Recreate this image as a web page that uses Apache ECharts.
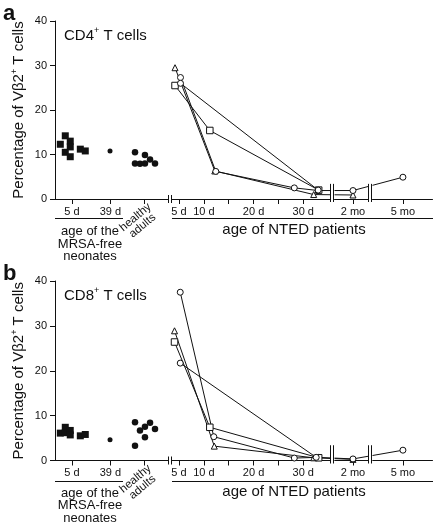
<!DOCTYPE html>
<html><head><meta charset="utf-8">
<script src="https://cdn.jsdelivr.net/npm/echarts@6/dist/echarts.min.js"></script>
<style>html,body{margin:0;padding:0;background:#fff}#c{width:435px;height:529px}</style>
</head><body><div id="c"></div>
<script>
// ---------- data ----------
const yTickValues = [0, 10, 20, 30, 40];
const leftCategories = ['5 d', '39 d', 'healthy adults'];
const leftCategoryPos = [1.5, 4.9, 7.9];
const rightTickDays = [5, 10, 15, 20, 25, 30, 60, 150];
const rightLabelDays = [5, 10, 20, 30, 60, 150];
const rightLabelText = ['5 d', '10 d', '20 d', '30 d', '2 mo', '5 mo'];

// panel a (CD4+)
const cd4Neonates5d = [[0.47,12.3],[0.91,14.2],[1.35,13.0],[0.91,10.5],[1.35,11.7],[1.35,9.5],[2.24,11.2],[2.68,10.8]];
const cd4Neonates39d = [[4.87,10.8]];
const cd4Adults = [[7.08,10.5],[7.08,8.0],[7.52,7.9],[7.96,9.9],[7.96,8.0],[8.41,8.9],[8.85,8.0]];
const cd4Triangle = [[4.2,29.5],[12.2,6.3],[32.1,1.0],[60,0.9]];
const cd4Circle1 = [[5.3,27.3],[12.4,6.2],[28.2,2.5],[33.0,1.9],[60,1.9],[150,4.9]];
const cd4Square = [[4.2,25.5],[11.2,15.4],[33.1,2.0]];
const cd4Circle2 = [[5.3,26.0],[33.0,2.0]];

// panel b (CD8+)
const cd8Neonates5d = [[0.47,6.1],[0.91,7.4],[0.91,6.2],[1.35,6.7],[1.35,5.7],[2.24,5.5],[2.68,5.8]];
const cd8Neonates39d = [[4.87,4.6]];
const cd8Adults = [[7.08,8.5],[7.08,3.3],[7.52,6.7],[7.96,7.5],[7.96,5.2],[8.41,8.4],[8.85,7.0]];
const cd8Circle1 = [[5.25,37.5],[12.0,5.3],[28.2,0.55],[33.0,0.7],[60,0.35],[150,2.3]];
const cd8Triangle = [[4.1,28.9],[12.1,3.2],[32.1,0.6],[60,0.25]];
const cd8Square = [[4.1,26.4],[11.2,7.4],[33.1,0.6]];
const cd8Circle2 = [[5.25,21.7],[32.6,0.7]];

const rightBreaks = [[35.4, 56.2], [63.0, 143.75]];
// ---------- chart ----------
const FONT = '"Liberation Sans", Arial, Helvetica, sans-serif';
const chart = echarts.init(document.getElementById('c'), null, {renderer: 'canvas'});
const black = '#111';
const panels = [
  {top: 21, height: 178},
  {top: 281, height: 179.5}
];
const grids = [], xAxes = [], yAxes = [], series = [];
panels.forEach((p, i) => {
  grids.push({left: 55, top: p.top, width: 113, height: p.height});
  grids.push({left: 171, top: p.top, width: 261, height: p.height});
  xAxes.push({
    gridIndex: 2*i, type: 'value', min: 0, max: 10,
    axisLine: {lineStyle: {color: black, width: 1}},
    axisTick: {show: true, length: 5, customValues: leftCategoryPos, lineStyle: {color: black}},
    axisLabel: {customValues: leftCategoryPos.slice(0, 2), margin: 7, color: black, fontSize: 11, fontFamily: FONT,
      formatter: v => leftCategories[leftCategoryPos.indexOf(v)] || ''},
    splitLine: {show: false}
  });
  xAxes.push({
    gridIndex: 2*i+1, type: 'value', min: 3.39, max: 155.85,
    breaks: rightBreaks.map(b => ({start: b[0], end: b[1], gap: 0.8})),
    breakArea: {show: true, itemStyle: {color: '#fff', borderWidth: 0, opacity: 1}, zigzagAmplitude: 0, zigzagZ: 100, expandOnClick: false},
    axisLine: {lineStyle: {color: black, width: 1}},
    axisTick: {show: true, length: 5, customValues: rightTickDays, lineStyle: {color: black}},
    axisLabel: {customValues: rightLabelDays, margin: 7, color: black, fontSize: 11, fontFamily: FONT,
      formatter: v => rightLabelText[rightLabelDays.indexOf(v)] || ''},
    splitLine: {show: false}
  });
  yAxes.push({
    gridIndex: 2*i, type: 'value', min: 0, max: 40, interval: 10,
    axisLine: {show: true, lineStyle: {color: black, width: 1}},
    axisTick: {show: true, length: 5, lineStyle: {color: black}},
    axisLabel: {color: black, fontSize: 11, fontFamily: FONT, margin: 8},
    splitLine: {show: false},
    name: '{n|Percentage of Vβ2}{s|+}{n| T cells}',
    nameLocation: 'middle', nameGap: 27, nameRotate: 90,
    nameTextStyle: {color: black, fontFamily: FONT, rich: {
      n: {fontSize: 15, fontFamily: FONT, color: black, lineHeight: 18},
      s: {fontSize: 9, fontFamily: FONT, color: black, verticalAlign: 'top', lineHeight: 12}
    }}
  });
  yAxes.push({gridIndex: 2*i+1, type: 'value', min: 0, max: 40, show: false});
});

function scat(data, xi, symbol, size) {
  return {type: 'scatter', xAxisIndex: xi, yAxisIndex: xi, data, symbol, symbolSize: size,
    itemStyle: {color: black, opacity: 1}, silent: true};
}
function line(data, xi, symbol, size) {
  return {type: 'line', xAxisIndex: xi, yAxisIndex: xi, data, symbol, symbolSize: size,
    showSymbol: true, clip: true,
    lineStyle: {color: black, width: 1}, itemStyle: {color: '#fff', borderColor: black, borderWidth: 1},
    z: 3, silent: true};
}
series.push(
  scat(cd4Neonates5d, 0, 'rect', 7), scat(cd4Neonates39d, 0, 'circle', 5), scat(cd4Adults, 0, 'circle', 6.5),
  line(cd4Triangle, 1, 'triangle', 6), line(cd4Circle1, 1, 'circle', 6), line(cd4Square, 1, 'rect', 6.5), line(cd4Circle2, 1, 'circle', 6),
  scat(cd8Neonates5d, 2, 'rect', 7), scat(cd8Neonates39d, 2, 'circle', 5), scat(cd8Adults, 2, 'circle', 6.5),
  line(cd8Triangle, 3, 'triangle', 6), line(cd8Circle1, 3, 'circle', 6), line(cd8Square, 3, 'rect', 6.5), line(cd8Circle2, 3, 'circle', 6)
);

chart.setOption({
  animation: false,
  backgroundColor: '#fff',
  grid: grids, xAxis: xAxes, yAxis: yAxes, series
});

// ---------- decorations (text, brackets, break marks) ----------
const g = [];
function txt(x, y, text, size, opts) {
  g.push(Object.assign({type: 'text', x, y, z: 100, style: Object.assign({text, fill: black, fontSize: size, fontFamily: FONT,
    align: 'center', verticalAlign: 'middle'}, (opts && opts.style) || {})}, (opts && opts.el) || {}));
}
function seg(x1, y1, x2, y2) {
  g.push({type: 'line', z: 100, shape: {x1, y1, x2, y2}, style: {stroke: black, lineWidth: 1}});
}
const panelLetters = ['a', 'b'];
const panelTitles = ['CD4', 'CD8'];
panels.forEach((p, i) => {
  const axisY = p.top + p.height;
  txt(3, p.top - 7, panelLetters[i], 22, {style: {fontWeight: 'bold', align: 'left'}});
  g.push({type: 'text', x: 64, y: p.top + 14.5, z: 100, style: {
    text: '{n|' + panelTitles[i] + '}{s|+}{n| T cells}', fill: black, fontFamily: FONT, align: 'left', verticalAlign: 'middle',
    rich: {n: {fontSize: 15, fontFamily: FONT, lineHeight: 18}, s: {fontSize: 9, fontFamily: FONT, verticalAlign: 'top', lineHeight: 12}}
  }});
  // bracket lines under tick labels
  const uy = axisY + 19.5 + i * 1.5;
  seg(55, uy, 123, uy);
  seg(172, uy, 433, uy);
  txt(90, axisY + 45, 'age of the\nMRSA-free\nneonates', 13, {style: {lineHeight: 12.5}});
  txt(294, axisY + 31, 'age of NTED patients', 15);
  txt(139, axisY + 22.5, 'healthy\nadults', 11.5, {style: {lineHeight: 11}, el: {rotation: 40 * Math.PI / 180}});
  // left axis break marks
  seg(168.5, axisY - 4, 168.5, axisY + 4);
  seg(171.5, axisY - 4, 171.5, axisY + 4);
  // right axis break marks
  const yTop = chart.convertToPixel({yAxisIndex: 2*i+1}, 3.4);
  rightBreaks.forEach(b => {
    const xa = chart.convertToPixel({xAxisIndex: 2*i+1}, b[0]);
    const xb = chart.convertToPixel({xAxisIndex: 2*i+1}, b[1]);
    seg(Math.round(xa) + 0.5, yTop, Math.round(xa) + 0.5, axisY + 3);
    seg(Math.round(xb) - 0.5, yTop, Math.round(xb) - 0.5, axisY + 3);
  });
});
chart.setOption({graphic: {elements: g}});
</script>
</body></html>
